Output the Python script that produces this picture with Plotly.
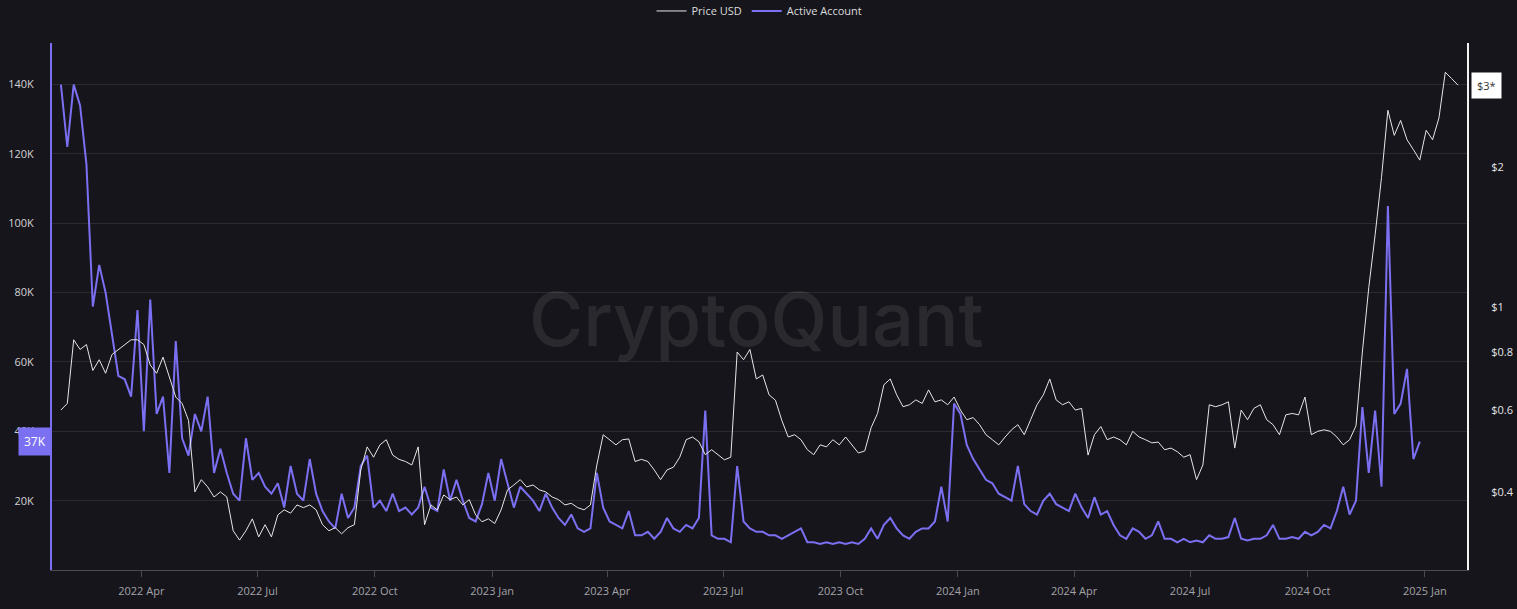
import pandas as pd
import plotly.graph_objects as go

# ---- data (5-day sampling) ----
start_date = "2022-01-28"
step = "5D"

price_usd = [
    0.60, 0.62, 0.85, 0.81, 0.83, 0.73, 0.77, 0.72, 0.79, 0.81,
    0.83, 0.85, 0.85, 0.83, 0.75, 0.72, 0.78, 0.71, 0.64, 0.62,
    0.57, 0.40, 0.425, 0.41, 0.39, 0.40, 0.39, 0.33, 0.315, 0.33,
    0.35, 0.32, 0.34, 0.32, 0.357, 0.366, 0.36, 0.375, 0.37, 0.375,
    0.366, 0.34, 0.33, 0.335, 0.325, 0.335, 0.34, 0.446, 0.50, 0.475,
    0.505, 0.518, 0.48, 0.47, 0.465, 0.457, 0.50, 0.34, 0.375, 0.366,
    0.394, 0.385, 0.39, 0.375, 0.385, 0.357, 0.345, 0.35, 0.342, 0.366,
    0.404, 0.414, 0.425, 0.41, 0.414, 0.404, 0.40, 0.39, 0.385, 0.375,
    0.378, 0.37, 0.366, 0.375, 0.457, 0.531, 0.518, 0.505, 0.518, 0.52,
    0.465, 0.47, 0.465, 0.446, 0.425, 0.446, 0.452, 0.475, 0.518, 0.525,
    0.513, 0.481, 0.493, 0.481, 0.469, 0.475, 0.80, 0.77, 0.81, 0.70,
    0.714, 0.647, 0.63, 0.57, 0.525, 0.531, 0.518, 0.493, 0.481, 0.505,
    0.50, 0.518, 0.505, 0.525, 0.505, 0.485, 0.49, 0.55, 0.59, 0.68,
    0.70, 0.647, 0.61, 0.616, 0.631, 0.62, 0.663, 0.625, 0.631, 0.616,
    0.64, 0.60, 0.572, 0.578, 0.558, 0.531, 0.518, 0.505, 0.525, 0.544,
    0.558, 0.531, 0.572, 0.616, 0.647, 0.70, 0.631, 0.616, 0.625, 0.60,
    0.605, 0.48, 0.531, 0.553, 0.518, 0.525, 0.518, 0.505, 0.54, 0.525,
    0.518, 0.51, 0.512, 0.493, 0.497, 0.488, 0.475, 0.481, 0.425, 0.457,
    0.616, 0.61, 0.616, 0.625, 0.497, 0.60, 0.572, 0.605, 0.616, 0.572,
    0.558, 0.531, 0.586, 0.59, 0.586, 0.64, 0.531, 0.54, 0.544, 0.54,
    0.525, 0.505, 0.518, 0.555, 0.80, 1.10, 1.43, 1.90, 2.65, 2.34,
    2.52, 2.29, 2.18, 2.07, 2.40, 2.29, 2.55, 3.20, 3.10, 3.00,
]

active_k = [
    140, 122, 140, 134, 117, 76, 88, 80, 68, 56,
    55, 50, 75, 40, 78, 45, 50, 28, 66, 38,
    33, 45, 40, 50, 28, 35, 28, 22, 20, 38,
    26, 28, 24, 22, 25, 18, 30, 22, 20, 32,
    22, 17, 14, 12, 22, 15, 18, 30, 33, 18,
    20, 17, 22, 17, 18, 16, 18, 24, 18, 17,
    29, 20, 26, 20, 15, 14, 19, 28, 20, 32,
    25, 18, 24, 22, 20, 17, 22, 18, 15, 13,
    16, 12, 11, 12, 28, 18, 14, 13, 12, 17,
    10, 10, 11, 9, 11, 15, 12, 11, 13, 12,
    15, 46, 10, 9, 9, 8, 30, 14, 12, 11,
    11, 10, 10, 9, 10, 11, 12, 8, 8, 7.5,
    8, 7.5, 8, 7.5, 8, 7.5, 9, 12, 9, 13,
    15, 12, 10, 9, 11, 12, 12, 14, 24, 14,
    48, 45, 36, 32, 29, 26, 25, 22, 21, 20,
    30, 19, 17, 16, 20, 22, 19, 18, 17, 22,
    18, 15, 21, 16, 17, 13, 10, 9, 12, 11,
    9, 10, 14, 9, 9, 8, 9, 8, 8.5, 8,
    10, 9, 9, 9.5, 15, 9, 8.5, 9, 9, 10,
    13, 9, 9, 9.5, 9, 11, 10, 11, 13, 12,
    17, 24, 16, 20, 47, 28, 46, 24, 105, 45,
    48, 58, 32, 37,
]

left_ticks = [20000, 40000, 60000, 80000, 100000, 120000, 140000]
left_ticktext = ["20K", "40K", "60K", "80K", "100K", "120K", "140K"]
right_ticks = [0.4, 0.6, 0.8, 1, 2]
right_ticktext = ["$0.4", "$0.6", "$0.8", "$1", "$2"]

# ---- figure ----
dates = pd.date_range(start_date, periods=len(price_usd), freq=step)
active_dates = dates[: len(active_k)]
active_vals = [v * 1000 for v in active_k]

BG = "#16151b"
PURPLE = "#7b6ff2"
FONT = "Open Sans"

fig = go.Figure()
fig.add_trace(go.Scatter(
    x=active_dates, y=active_vals, name="Active Account", mode="lines",
    line=dict(color=PURPLE, width=2), yaxis="y",
))
fig.add_trace(go.Scatter(
    x=dates, y=price_usd, name="Price USD", mode="lines",
    line=dict(color="#e6e6e6", width=1), yaxis="y2",
))

fig.update_layout(
    width=1517, height=609,
    paper_bgcolor=BG, plot_bgcolor=BG,
    margin=dict(l=52, r=50, t=43, b=39, autoexpand=False),
    font=dict(family=FONT, size=11, color="#cfcfd4"),
    showlegend=True,
    legend=dict(
        orientation="h", x=0.5, xanchor="center",
        yref="container", y=0.982, yanchor="middle",
        font=dict(size=11, color="#dcdcdc"), traceorder="reversed",
        bgcolor="rgba(0,0,0,0)", itemwidth=30,
    ),
    xaxis=dict(
        type="date", range=["2022-01-21", "2025-02-03"],
        tick0="2022-01-01", dtick="M3", tickformat="%Y %b",
        showgrid=False, zeroline=False,
        showline=True, linecolor="#4a4a52", linewidth=1,
        ticks="outside", ticklen=6, tickcolor="#4a4a52",
        ticklabelstandoff=5,
        tickfont=dict(size=11, color="#a3a3a8"),
    ),
    yaxis=dict(
        range=[0, 152000], tickvals=left_ticks, ticktext=left_ticktext,
        showgrid=True, gridcolor="#2a2a30", gridwidth=1, zeroline=False,
        showline=True, linecolor=PURPLE, linewidth=2,
        ticks="", ticklabelstandoff=14,
        tickfont=dict(size=11, color="#d2d2d6"),
    ),
    yaxis2=dict(
        type="log", range=[-0.566, 0.568], overlaying="y", side="right",
        tickvals=right_ticks, ticktext=right_ticktext,
        showgrid=False, zeroline=False,
        showline=True, linecolor="#f2f2f2", linewidth=2,
        ticks="", ticklabelstandoff=20,
        tickfont=dict(size=11, color="#e4e4e8"),
    ),
)

# watermark
fig.add_annotation(
    text="CryptoQuant", xref="paper", yref="paper", x=0.498, y=0.476,
    showarrow=False, font=dict(family="Inter", size=74, color="rgba(255,255,255,0.085)", weight=500),
)

# last-value labels on the axes
fig.add_annotation(
    text=f"{active_k[-1]:.0f}K", xref="paper", yref="y", x=0, y=active_vals[-1],
    xanchor="right", yanchor="middle", showarrow=False,
    bgcolor=PURPLE, borderpad=5, font=dict(size=12, color="#ffffff"),
)
fig.add_annotation(
    text=f"${price_usd[-1]:.0f}*", xref="paper", yref="y2", x=1, y=0.477,
    xanchor="left", yanchor="middle", xshift=4, showarrow=False,
    bgcolor="#ffffff", borderpad=5, font=dict(size=11, color="#333333"),
)

fig.write_html("out.html")
